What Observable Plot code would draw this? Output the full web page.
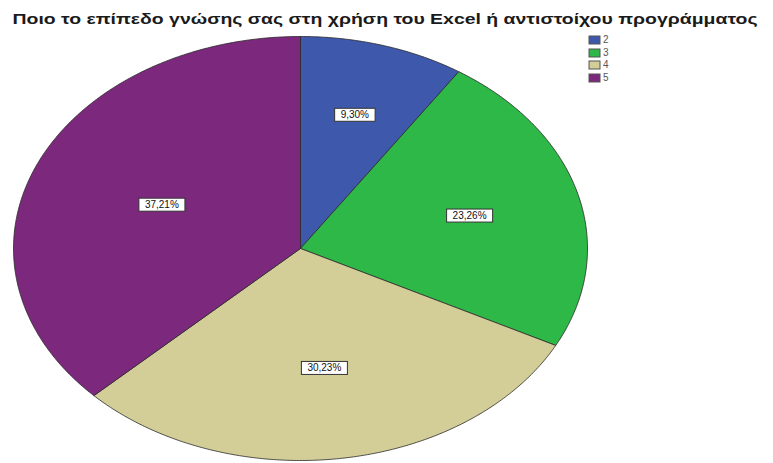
<!DOCTYPE html>
<html>
<head>
<meta charset="utf-8">
<script src="https://cdn.jsdelivr.net/npm/d3@7"></script>
<script src="https://cdn.jsdelivr.net/npm/@observablehq/plot@0.6"></script>
<style>
  html, body { margin: 0; padding: 0; background: #fff; }
  #wrap { position: relative; width: 773px; height: 463px; overflow: hidden; font-family: "Liberation Sans", Arial, sans-serif; }
  #title { position: absolute; top: 11px; left: 384.5px; white-space: nowrap; font: bold 14px/16px "Liberation Sans", Arial, sans-serif; color: #1a1a1a; transform-origin: center; }
  #chart { position: absolute; top: 30px; left: 0; }
  #legend { position: absolute; left: 589px; top: 34px; }
  #legend .lg-swatches { font: 10px "Liberation Sans", Arial, sans-serif !important; color: #555; margin: 0; }
  #legend .lg-swatch { height: 12.5px; padding-bottom: 0 !important; line-height: 12.5px; }
  #legend .lg-swatch > svg { margin-right: 3px !important; }
  #legend .lg-swatch rect { stroke: #555; stroke-width: 1px; }
</style>
</head>
<body>
<div id="wrap">
  <div id="title"></div>
  <div id="chart"></div>
  <div id="legend"></div>
</div>
<script>
const title = "Ποιο το επίπεδο γνώσης σας στη χρήση του Excel ή αντιστοίχου προγράμματος";
const categories = ["2", "3", "4", "5"];
const percents = [9.30, 23.26, 30.23, 37.21];
const labels = ["9,30%", "23,26%", "30,23%", "37,21%"];
const colors = ["#3E58AC", "#2EB848", "#D3CE97", "#7C287D"];

const rows = categories.map((c, i) => ({key: c, pct: percents[i], label: labels[i]}));
const arcs = d3.pie().sort(null).value(d => d.pct)(rows);

// slice outlines in unit-circle space (angle 0 at 12 o'clock, clockwise)
const outline = [];
for (const a of arcs) {
  const n = Math.max(8, Math.ceil((a.endAngle - a.startAngle) / 0.01));
  outline.push({key: a.data.key, x: 0, y: 0});
  for (let k = 0; k <= n; ++k) {
    const t = a.startAngle + (a.endAngle - a.startAngle) * k / n;
    outline.push({key: a.data.key, x: Math.sin(t), y: Math.cos(t)});
  }
  outline.push({key: a.data.key, x: 0, y: 0});
}
// label anchors at slice centroids
const labelPts = arcs.map(a => {
  const th = a.endAngle - a.startAngle, mid = (a.startAngle + a.endAngle) / 2;
  const r = 4 * Math.sin(th / 2) / (3 * th);
  return {label: a.data.label, x: r * Math.sin(mid), y: r * Math.cos(mid)};
});

const chart = Plot.plot({
  width: 773,
  height: 433,
  marginLeft: 13,
  marginRight: 186,
  marginTop: 6,
  marginBottom: 3,
  x: {domain: [-1, 1], axis: null},
  y: {domain: [-1, 1], axis: null},
  color: {domain: categories, range: colors},
  style: {fontFamily: "Liberation Sans, Arial, sans-serif", background: "transparent"},
  marks: [
    Plot.line(outline, {x: "x", y: "y", z: "key", fill: "key", stroke: "#2a2a2a", strokeWidth: 1, strokeOpacity: 0.8, curve: "linear"}),
    Plot.text(labelPts, {x: "x", y: "y", text: "label", fontSize: 10, fill: "#111"})
  ]
});
document.getElementById("chart").appendChild(chart);

// white boxes behind labels
chart.querySelectorAll('g[aria-label="text"] text').forEach(t => {
  const b = t.getBBox();
  const r = document.createElementNS("http://www.w3.org/2000/svg", "rect");
  r.setAttribute("x", b.x - 6); r.setAttribute("y", b.y - 1);
  r.setAttribute("width", b.width + 12); r.setAttribute("height", b.height + 2);
  r.setAttribute("fill", "#fff"); r.setAttribute("stroke", "#333"); r.setAttribute("stroke-width", 1);
  const tr = t.getAttribute("transform");
  if (tr) r.setAttribute("transform", tr);
  t.parentNode.insertBefore(r, t);
});

// title, stretched to the reference width
const tEl = document.getElementById("title");
tEl.textContent = title;
const w = tEl.getBoundingClientRect().width;
tEl.style.transform = `translateX(-50%) scaleX(${745 / w})`;

// legend
const legend = Plot.legend({
  color: {domain: categories, range: colors, type: "ordinal"},
  legend: "swatches",
  columns: 1,
  swatchWidth: 11,
  swatchHeight: 8,
  className: "lg"
});
document.getElementById("legend").appendChild(legend);
</script>
</body>
</html>
